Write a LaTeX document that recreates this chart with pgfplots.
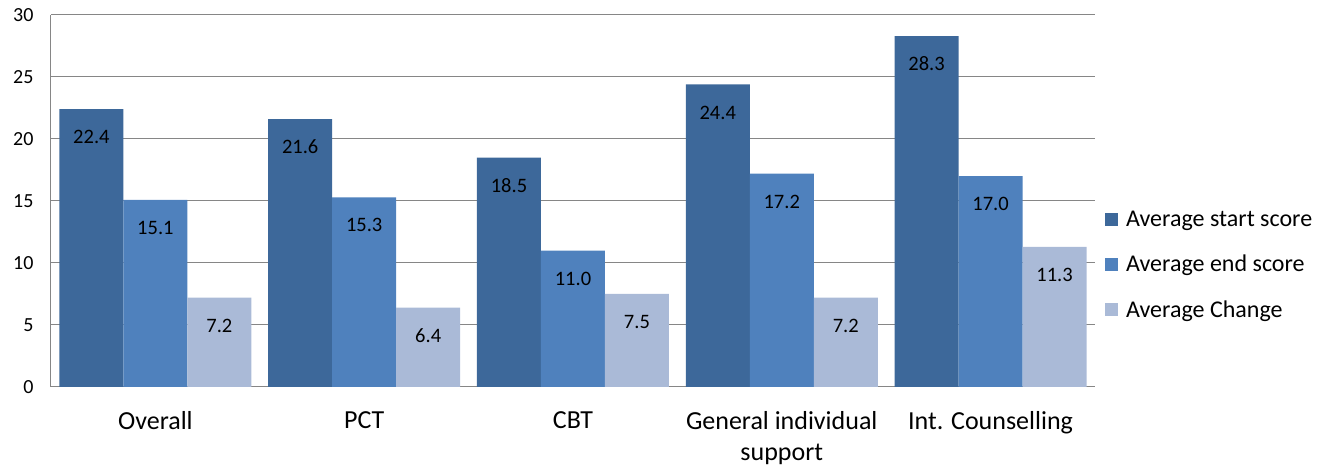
\documentclass[border=0pt]{standalone}
\usepackage{fontspec}
\setmainfont{Carlito}
\usepackage{pgfplots}
\pgfplotsset{compat=1.18}
\definecolor{cA}{RGB}{61,104,154}
\definecolor{cB}{RGB}{79,129,189}
\definecolor{cC}{RGB}{170,186,215}
\definecolor{gridc}{RGB}{134,134,134}
\begin{document}
\begin{tikzpicture}
\begin{axis}[
  at={(0pt,0pt)}, anchor=south west,
  scale only axis, width=1044pt, height=372pt,
  xmin=-0.5, xmax=4.5, ymin=0, ymax=30,
  ytick={0,5,...,30},
  xtick={0,1,2,3,4},
  xticklabels={Overall, PCT, CBT, {General individual\\support}, Int. Counselling},
  xticklabel style={align=center, font=\fontsize{26}{31}\selectfont, yshift=-21pt},
  yticklabel style={font=\fontsize{20}{24}\selectfont, xshift=-14pt},
  /pgf/number format/assume math mode=true,
  major tick length=0pt,
  ymajorgrids, grid style={gridc, line width=1pt},
  axis x line*=bottom, axis y line*=left,
  axis line style={gridc, line width=1pt, -},
  ybar=0pt, bar width=64pt,
  every axis plot/.append style={draw=none},
  nodes near coords={\pgfmathprintnumber[fixed,fixed zerofill,precision=1]{\pgfplotspointmeta}},
  every node near coord/.append style={anchor=center, yshift=-28pt, font=\fontsize{20.5}{24}\selectfont, text=black},
  legend style={at={(1.0096,0.328)}, anchor=west, draw=none, fill=none, inner sep=0pt,
    font=\fontsize{24}{28}\selectfont, row sep=23pt, cells={anchor=west}},
  legend image code/.code={\fill[#1] (0pt,-6.5pt) rectangle (13pt,6.5pt); \path (19pt,0pt);},
]
\addplot[fill=cA] coordinates {(0,22.4) (1,21.6) (2,18.5) (3,24.4) (4,28.3)};
\addplot[fill=cB] coordinates {(0,15.1) (1,15.3) (2,11.0) (3,17.2) (4,17.0)};
\addplot[fill=cC] coordinates {(0,7.2) (1,6.4) (2,7.5) (3,7.2) (4,11.3)};
\legend{Average start score, Average end score, Average Change}
\end{axis}
\pgfresetboundingbox
\path[use as bounding box] (-51pt,-81pt) rectangle (1274pt,387pt);
\end{tikzpicture}
\end{document}
